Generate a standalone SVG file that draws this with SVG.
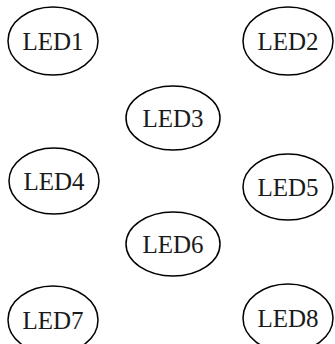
<svg xmlns="http://www.w3.org/2000/svg" width="335" height="344" viewBox="0 0 335 344">
  <style>
    .node ellipse { fill: #ffffff; stroke: #000000; stroke-width: 1.5; }
    .node text { font-family: "Liberation Serif", "Noto Serif CJK JP", serif; font-size: 25px; fill: #1a1a1a; text-anchor: middle; }
  </style>
  <rect width="335" height="344" fill="#ffffff"/>
  <g id="edges"></g>
  <g id="LED1" class="node"><ellipse cx="53" cy="41" rx="45" ry="34"/><text x="53" y="50">LED1</text></g>
  <g id="LED2" class="node"><ellipse cx="288" cy="41" rx="45" ry="34"/><text x="288" y="50">LED2</text></g>
  <g id="LED3" class="node"><ellipse cx="173" cy="118" rx="47" ry="32"/><text x="173" y="127">LED3</text></g>
  <g id="LED4" class="node"><ellipse cx="54" cy="181" rx="45" ry="33"/><text x="54" y="190">LED4</text></g>
  <g id="LED5" class="node"><ellipse cx="288" cy="187" rx="45" ry="33"/><text x="288" y="196">LED5</text></g>
  <g id="LED6" class="node"><ellipse cx="173" cy="244" rx="47" ry="32"/><text x="173" y="253">LED6</text></g>
  <g id="LED7" class="node"><ellipse cx="53" cy="320" rx="45" ry="34"/><text x="53" y="329">LED7</text></g>
  <g id="LED8" class="node"><ellipse cx="288" cy="318" rx="45" ry="34"/><text x="288" y="327">LED8</text></g>
</svg>
